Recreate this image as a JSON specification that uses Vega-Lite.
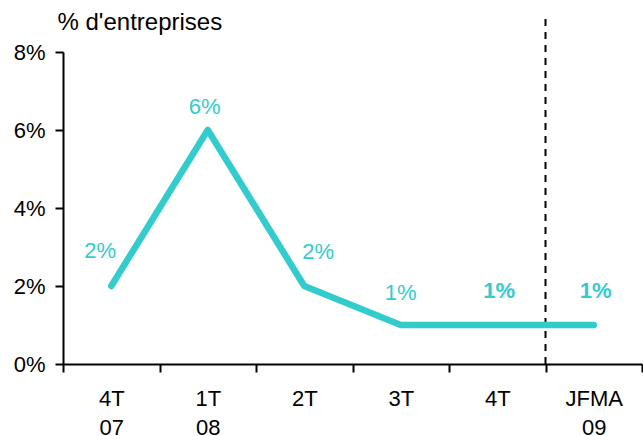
{
  "$schema": "https://vega.github.io/schema/vega-lite/v6.json",
  "width": 579,
  "height": 312,
  "autosize": {"type": "none"},
  "padding": {"left": 63, "top": 52, "right": 1, "bottom": 72},
  "background": "white",
  "config": {
    "view": {"stroke": null},
    "font": "Liberation Sans",
    "axis": {"grid": false, "domainColor": "black", "domainWidth": 2, "tickColor": "black", "tickWidth": 2, "labelColor": "black", "labelFont": "Liberation Sans", "labelFontSize": 22}
  },
  "data": {
    "values": [
      {"periode": "4T 07", "valeur": 0.02},
      {"periode": "1T 08", "valeur": 0.06},
      {"periode": "2T", "valeur": 0.02},
      {"periode": "3T", "valeur": 0.01},
      {"periode": "4T", "valeur": 0.01},
      {"periode": "JFMA 09", "valeur": 0.01}
    ]
  },
  "encoding": {
    "x": {
      "field": "periode", "type": "nominal",
      "sort": ["4T 07", "1T 08", "2T", "3T", "4T", "JFMA 09"],
      "scale": {"type": "band", "paddingInner": 0, "paddingOuter": 0, "domain": ["4T 07", "1T 08", "2T", "3T", "4T", "JFMA 09"]},
      "axis": {"title": null, "labelAngle": 0, "tickBand": "extent", "tickSize": 8, "labelPadding": 16, "labelLineHeight": 29, "labelExpr": "split(datum.label, ' ')"}
    },
    "y": {
      "field": "valeur", "type": "quantitative",
      "scale": {"domain": [0, 0.08], "nice": false},
      "axis": {"values": [0, 0.02, 0.04, 0.06, 0.08], "format": ".0%", "tickSize": 8, "labelPadding": 10,
        "title": "% d'entreprises", "titleAngle": 0, "titleAlign": "left", "titleBaseline": "alphabetic", "titleX": -6, "titleY": -23, "titleFontSize": 24, "titleFontWeight": "normal", "titleFont": "Liberation Sans", "titleColor": "black"}
    }
  },
  "layer": [
    {
      "transform": [{"filter": "datum.periode == 'JFMA 09'"}],
      "mark": {"type": "rule", "color": "black", "strokeWidth": 2, "strokeDash": [7, 6], "clip": false},
      "encoding": {
        "x": {"field": "periode", "type": "nominal", "sort": ["4T 07", "1T 08", "2T", "3T", "4T", "JFMA 09"], "bandPosition": 0},
        "y": {"datum": 0},
        "y2": {"datum": 0.089}
      }
    },
    {
      "mark": {"type": "line", "color": "#33CCCC", "strokeWidth": 6.5, "strokeCap": "round", "strokeJoin": "round"}
    },
    {
      "transform": [{"filter": "datum.periode == '4T 07'"}],
      "mark": {"type": "text", "color": "#33CCCC", "fontSize": 22, "dx": -11, "dy": -28, "baseline": "alphabetic"},
      "encoding": {"text": {"field": "valeur", "format": ".0%"}}
    },
    {
      "transform": [{"filter": "datum.periode == '1T 08'"}],
      "mark": {"type": "text", "color": "#33CCCC", "fontSize": 22, "dx": -3, "dy": -16, "baseline": "alphabetic"},
      "encoding": {"text": {"field": "valeur", "format": ".0%"}}
    },
    {
      "transform": [{"filter": "datum.periode == '2T'"}],
      "mark": {"type": "text", "color": "#33CCCC", "fontSize": 22, "dx": 14, "dy": -27, "baseline": "alphabetic"},
      "encoding": {"text": {"field": "valeur", "format": ".0%"}}
    },
    {
      "transform": [{"filter": "datum.periode == '3T'"}],
      "mark": {"type": "text", "color": "#33CCCC", "fontSize": 22, "dx": 0, "dy": -25, "baseline": "alphabetic"},
      "encoding": {"text": {"field": "valeur", "format": ".0%"}}
    },
    {
      "transform": [{"filter": "datum.periode == '4T' || datum.periode == 'JFMA 09'"}],
      "mark": {"type": "text", "color": "#33CCCC", "fontSize": 22, "fontWeight": "bold", "dx": 2, "dy": -27, "baseline": "alphabetic"},
      "encoding": {"text": {"field": "valeur", "format": ".0%"}}
    }
  ]
}
